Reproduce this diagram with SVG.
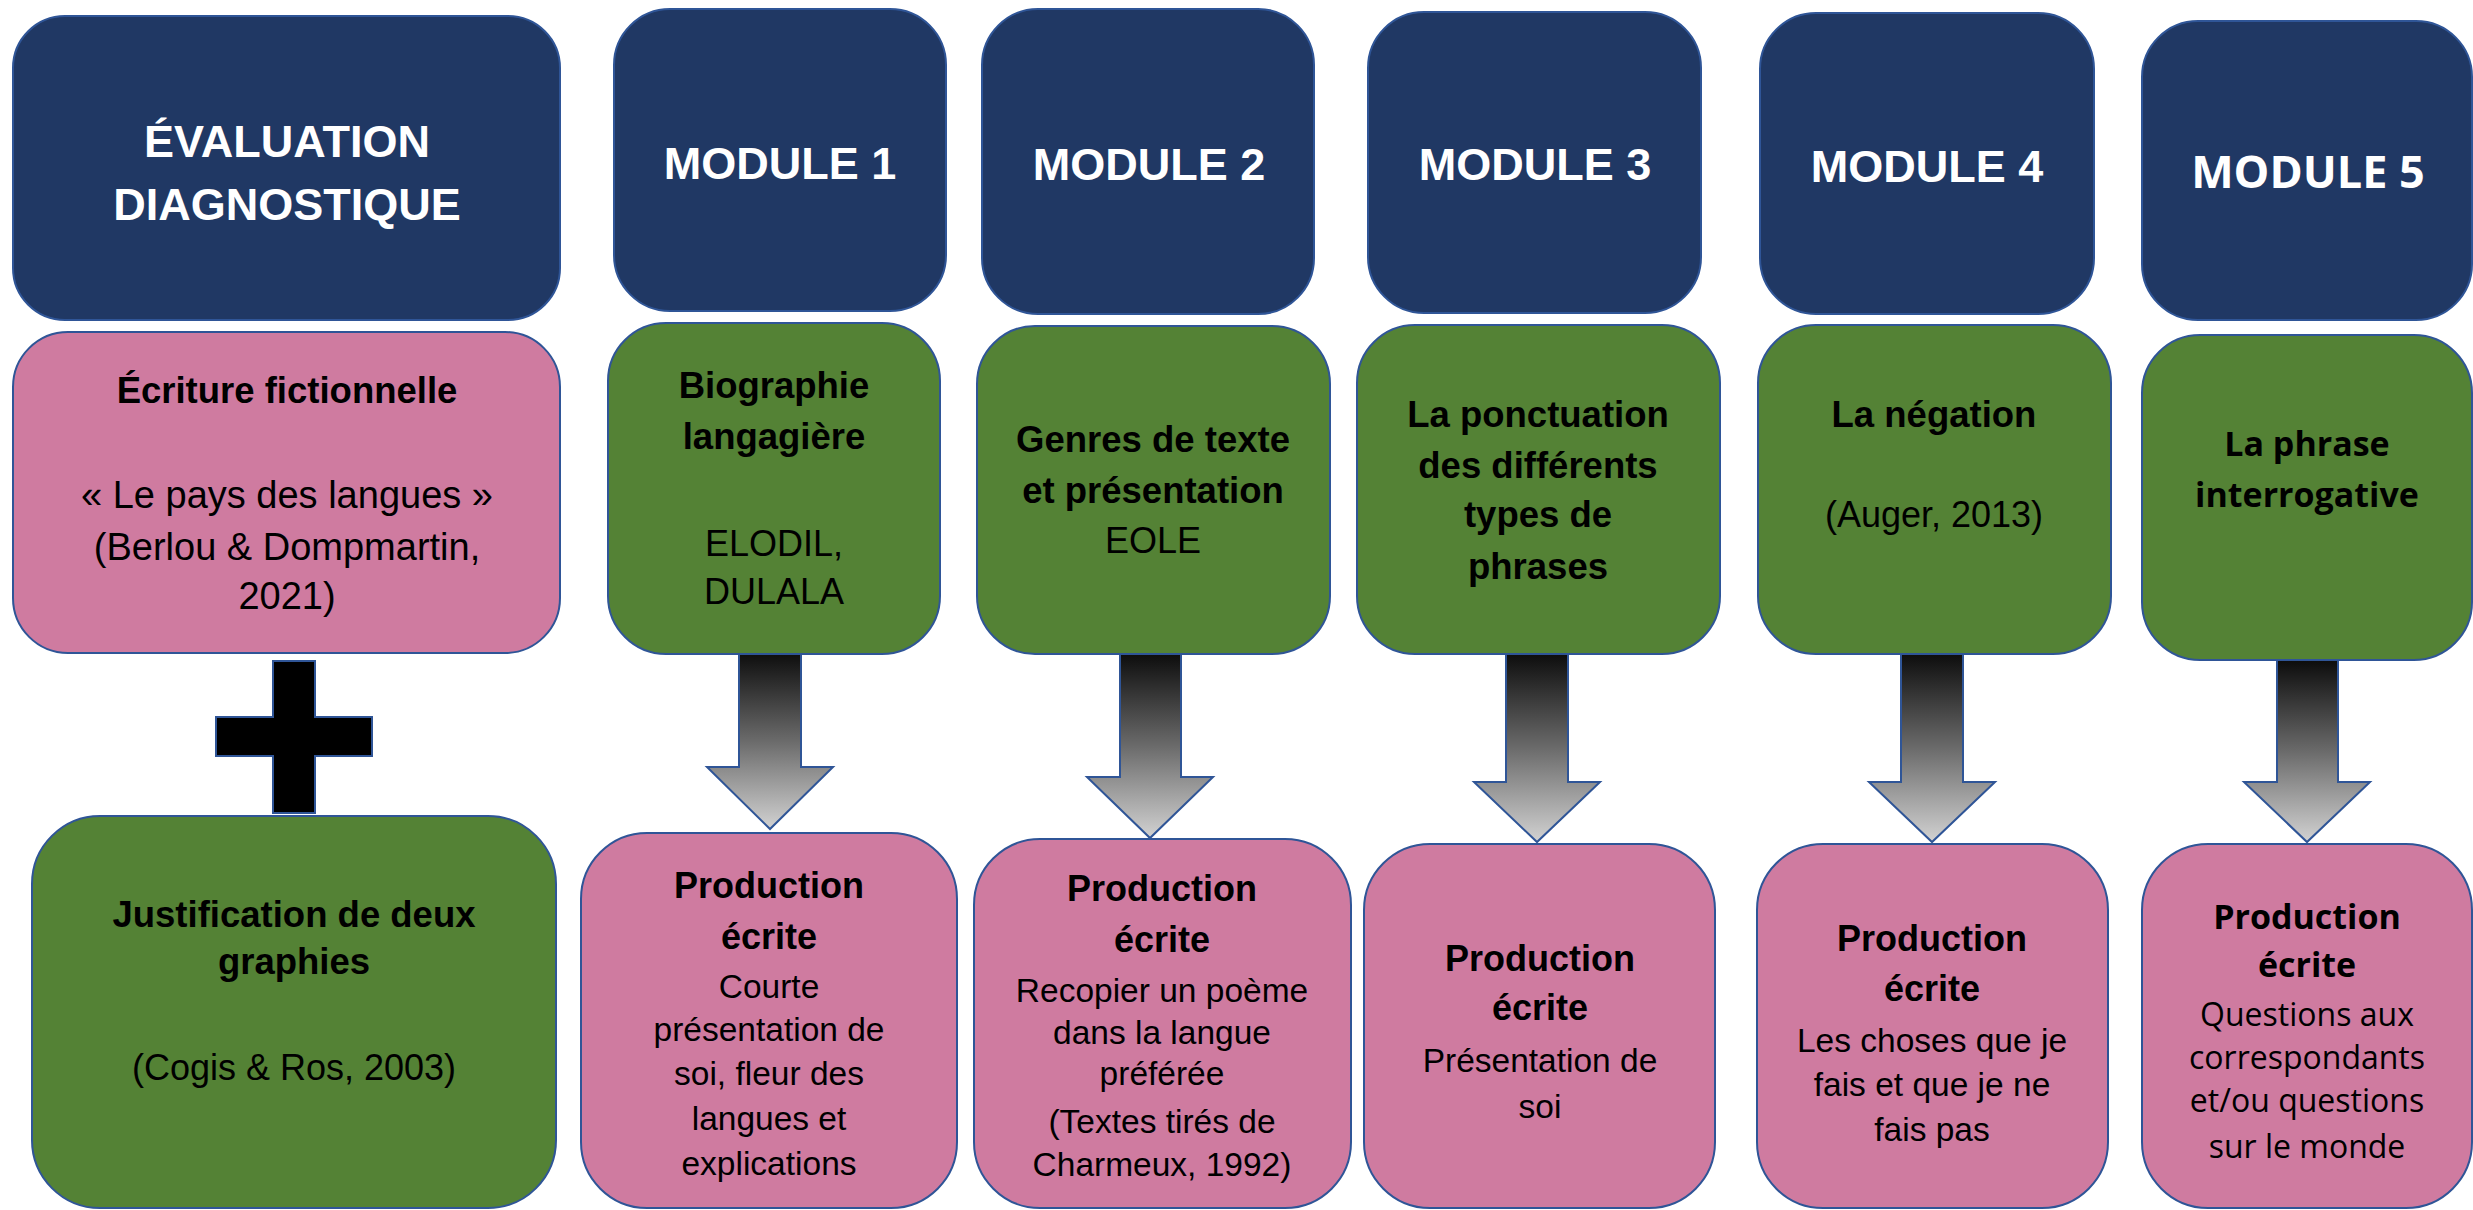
<svg xmlns="http://www.w3.org/2000/svg" width="2473" height="1210" viewBox="0 0 2473 1210">
<defs>
<linearGradient id="arrowGrad" x1="0" y1="0" x2="0" y2="1">
<stop offset="0" stop-color="#0c0c0c"/>
<stop offset="0.5" stop-color="#6a6a6a"/>
<stop offset="1" stop-color="#d2d2d2"/>
</linearGradient>
<style>
.hdr{fill:#203864;stroke:#2F5597;stroke-width:2}
.grn{fill:#548235;stroke:#2F5597;stroke-width:2}
.pnk{fill:#CF7BA0;stroke:#2F5597;stroke-width:2}
.arr{fill:url(#arrowGrad);stroke:#2F5597;stroke-width:2;stroke-linejoin:miter}
.plus{fill:#000;stroke:#2F5597;stroke-width:2}
text{font-family:"Liberation Sans",Arial,sans-serif;text-anchor:middle;fill:#000}
.th{font-size:45px;font-weight:bold;fill:#fff}
.tb{font-size:36.5px;font-weight:bold}
.tr{font-size:36px}
.tr38{font-size:38px}
.pb{font-size:36px;font-weight:bold}
.pr{font-size:33.5px}
.os{font-family:"Open Sans","Liberation Sans",sans-serif}
.osh{font-size:45px;font-weight:bold;fill:#fff}
.osb{font-size:34px;font-weight:bold}
.osr{font-size:32px}
</style>
</defs>
<rect width="2473" height="1210" fill="#fff"/>

<g id="connectors">
<path class="arr" d="M739,652 L801,652 L801,767 L833,767 L770,829 L707,767 L739,767 Z"/>
<path class="arr" d="M1120,653 L1181,653 L1181,777 L1213,777 L1150,838 L1087,777 L1120,777 Z"/>
<path class="arr" d="M1506,653 L1568,653 L1568,782 L1600,782 L1537,842 L1474,782 L1506,782 Z"/>
<path class="arr" d="M1901,653 L1963,653 L1963,782 L1995,782 L1932,842 L1869,782 L1901,782 Z"/>
<path class="arr" d="M2277,660 L2338,660 L2338,782 L2370,782 L2307,842 L2244,782 L2277,782 Z"/>
</g>

<g id="eval">
<rect class="hdr" x="13" y="16" width="547" height="304" rx="52"/>
<text class="th" x="287" y="157">ÉVALUATION</text>
<text class="th" x="287" y="220">DIAGNOSTIQUE</text>
</g>

<g id="ecriture">
<rect class="pnk" x="13" y="332" width="547" height="321" rx="55"/>
<text class="tb" x="287" y="403">Écriture fictionnelle</text>
<text class="tr38" x="287" y="508">« Le pays des langues »</text>
<text class="tr38" x="287" y="560">(Berlou &amp; Dompmartin,</text>
<text class="tr38" x="287" y="609">2021)</text>
</g>

<g id="plus">
<polygon class="plus" points="273,661 315,661 315,717 372,717 372,756 315,756 315,813 273,813 273,756 216,756 216,717 273,717"/>
</g>

<g id="justification">
<rect class="grn" x="32" y="816" width="524" height="392" rx="68"/>
<text class="tb" x="294" y="927">Justification de deux</text>
<text class="tb" x="294" y="974">graphies</text>
<text class="tr" x="294" y="1080">(Cogis &amp; Ros, 2003)</text>
</g>

<g id="module1">
<rect class="hdr" x="614" y="9" width="332" height="302" rx="56"/>
<text class="th" x="780" y="179">MODULE 1</text>
</g>
<g id="biographie">
<rect class="grn" x="608" y="323" width="332" height="331" rx="58"/>
<text class="tb" x="774" y="398">Biographie</text>
<text class="tb" x="774" y="449">langagière</text>
<text class="tr" x="774" y="556">ELODIL,</text>
<text class="tr" x="774" y="604">DULALA</text>
</g>
<g id="production1">
<rect class="pnk" x="581" y="833" width="376" height="375" rx="66"/>
<text class="pb" x="769" y="898">Production</text>
<text class="pb" x="769" y="949">écrite</text>
<text class="pr" x="769" y="998">Courte</text>
<text class="pr" x="769" y="1041">présentation de</text>
<text class="pr" x="769" y="1085">soi, fleur des</text>
<text class="pr" x="769" y="1130">langues et</text>
<text class="pr" x="769" y="1175">explications</text>
</g>

<g id="module2">
<rect class="hdr" x="982" y="9" width="332" height="305" rx="56"/>
<text class="th" x="1149" y="180">MODULE 2</text>
</g>
<g id="genres">
<rect class="grn" x="977" y="326" width="353" height="328" rx="58"/>
<text class="tb" x="1153" y="452">Genres de texte</text>
<text class="tb" x="1153" y="503">et présentation</text>
<text class="tr" x="1153" y="553">EOLE</text>
</g>
<g id="production2">
<rect class="pnk" x="974" y="839" width="377" height="369" rx="66"/>
<text class="pb" x="1162" y="901">Production</text>
<text class="pb" x="1162" y="952">écrite</text>
<text class="pr" x="1162" y="1002">Recopier un poème</text>
<text class="pr" x="1162" y="1044">dans la langue</text>
<text class="pr" x="1162" y="1085">préférée</text>
<text class="pr" x="1162" y="1133">(Textes tirés de</text>
<text class="pr" x="1162" y="1176">Charmeux, 1992)</text>
</g>

<g id="module3">
<rect class="hdr" x="1368" y="12" width="333" height="301" rx="56"/>
<text class="th" x="1535" y="180">MODULE 3</text>
</g>
<g id="ponctuation">
<rect class="grn" x="1357" y="325" width="363" height="329" rx="58"/>
<text class="tb" x="1538" y="427">La ponctuation</text>
<text class="tb" x="1538" y="478">des différents</text>
<text class="tb" x="1538" y="527">types de</text>
<text class="tb" x="1538" y="579">phrases</text>
</g>
<g id="production3">
<rect class="pnk" x="1364" y="844" width="351" height="364" rx="66"/>
<text class="pb" x="1540" y="971">Production</text>
<text class="pb" x="1540" y="1020">écrite</text>
<text class="pr" x="1540" y="1072">Présentation de</text>
<text class="pr" x="1540" y="1118">soi</text>
</g>

<g id="module4">
<rect class="hdr" x="1760" y="13" width="334" height="301" rx="56"/>
<text class="th" x="1927" y="182">MODULE 4</text>
</g>
<g id="negation">
<rect class="grn" x="1758" y="325" width="353" height="329" rx="58"/>
<text class="tb" x="1934" y="427">La négation</text>
<text class="tr" x="1934" y="527">(Auger, 2013)</text>
</g>
<g id="production4">
<rect class="pnk" x="1757" y="844" width="351" height="364" rx="66"/>
<text class="pb" x="1932" y="951">Production</text>
<text class="pb" x="1932" y="1001">écrite</text>
<text class="pr" x="1932" y="1052">Les choses que je</text>
<text class="pr" x="1932" y="1096">fais et que je ne</text>
<text class="pr" x="1932" y="1141">fais pas</text>
</g>

<g id="module5">
<rect class="hdr" x="2142" y="21" width="330" height="299" rx="56"/>
<text class="os osh" x="2308" y="188">MODULE 5</text>
</g>
<g id="interrogative">
<rect class="grn" x="2142" y="335" width="330" height="325" rx="58"/>
<text class="os osb" x="2307" y="456">La phrase</text>
<text class="os osb" x="2307" y="507">interrogative</text>
</g>
<g id="production5">
<rect class="pnk" x="2142" y="844" width="330" height="364" rx="66"/>
<text class="os osb" x="2307" y="929">Production</text>
<text class="os osb" x="2307" y="977">écrite</text>
<text class="os osr" x="2307" y="1026">Questions aux</text>
<text class="os osr" x="2307" y="1069">correspondants</text>
<text class="os osr" x="2307" y="1112">et/ou questions</text>
<text class="os osr" x="2307" y="1158">sur le monde</text>
</g>
</svg>
